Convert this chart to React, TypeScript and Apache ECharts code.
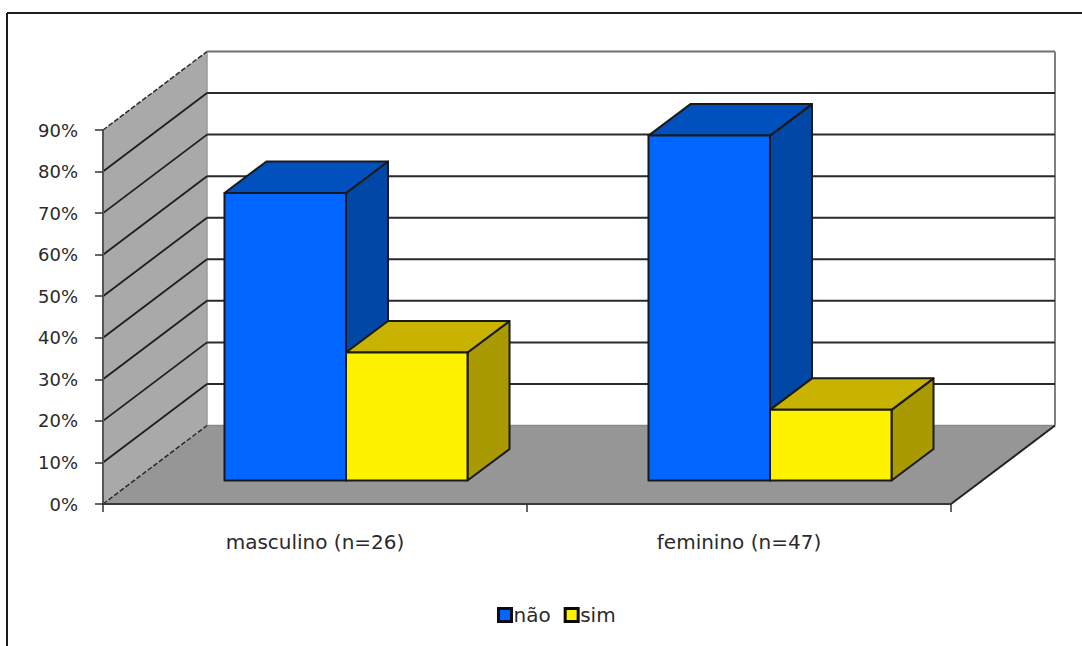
import React, { useEffect, useRef } from "react";
import * as echarts from "echarts";

const categories = ["masculino (n=26)", "feminino (n=47)"];
const naoValues = [69.2, 83.0];
const simValues = [30.8, 17.0];
const gridLevels = [10, 20, 30, 40, 50, 60, 70, 80];

// Oblique projection: how far the back wall sits from the front plane, and the bar's depth.
const WALL_DX = 104;
const WALL_DY = -78.5;
const BAR_DX = 42;
const BAR_DY = -31.5;
const BAR_BAND_SHARE = 0.2866;

const FONT = "'DejaVu Sans', sans-serif";
const TEXT = "#2a2a2a";

type Shade = { front: string; top: string; side: string };
const BLUE: Shade = { front: "#0066FF", top: "#0050BE", side: "#0047A6" };
const YELLOW: Shade = { front: "#FFF200", top: "#C8B400", side: "#A89A00" };
const EDGE = "#1a1a18";

const poly = (points: number[][], fill: string, stroke: string, lineWidth = 2) => ({
  type: "polygon",
  shape: { points },
  style: { fill, stroke, lineWidth, lineJoin: "round" },
});

const seg = (a: number[], b: number[], stroke: string, lineWidth: number, lineDash?: number[]) => ({
  type: "line",
  shape: { x1: a[0], y1: a[1], x2: b[0], y2: b[1] },
  style: { stroke, lineWidth, lineDash },
});

// Left wall, back wall and floor of the box around the plot area.
function renderWalls(params: any) {
  const { x, y, width, height } = params.coordSys;
  const bottom = y + height;
  const right = x + width;
  const back = (px: number, py: number) => [px + WALL_DX, py + WALL_DY];
  return {
    type: "group",
    children: [
      poly([back(x, y), back(right, y), back(right, bottom), back(x, bottom)], "#FFFFFF", "none", 0),
      poly([[x, y], back(x, y), back(x, bottom), [x, bottom]], "#A9A9A9", "none", 0),
      poly([[x, bottom], back(x, bottom), back(right, bottom), [right, bottom]], "#969696", "none", 0),
      seg(back(x, y), back(right, y), "#707070", 2),
      seg(back(right, y), back(right, bottom), "#808080", 2),
      seg(back(x, bottom), back(right, bottom), "#8a8a8a", 1.5),
      seg(back(x, y), back(x, bottom), "#9a9a9a", 1.5),
      seg([x, y], back(x, y), "#2a2a2a", 1.5, [5, 2]),
      seg([x, bottom], back(x, bottom), "#2a2a2a", 1.5, [5, 2]),
      seg([right, bottom], back(right, bottom), "#222222", 2),
    ],
  };
}

// One gridline: up the left wall, then across the back wall.
function renderGridLevel(params: any, api: any) {
  const p = api.coord([0, api.value(1)]);
  const { x, width } = params.coordSys;
  const corner = [x + WALL_DX, p[1] + WALL_DY];
  return {
    type: "group",
    children: [
      seg([x, p[1]], corner, "#1e1e1e", 1.8),
      seg(corner, [x + width + WALL_DX, p[1] + WALL_DY], "#2a2a2a", 2),
    ],
  };
}

// A box standing mid-depth on the floor; side -1 sits left of the band centre, +1 right of it.
function boxRenderer(side: number, shade: Shade) {
  return (_params: any, api: any) => {
    const idx = api.value(0);
    const top = api.coord([idx, api.value(1)]);
    const base = api.coord([idx, 0]);
    const w = api.size([1, 0])[0] * BAR_BAND_SHARE;
    const ox = (WALL_DX - BAR_DX) / 2;
    const oy = (WALL_DY - BAR_DY) / 2;
    const x0 = top[0] + ox + (side < 0 ? -w : 0);
    const x1 = x0 + w;
    const yTop = top[1] + oy;
    const yBase = base[1] + oy;
    return {
      type: "group",
      children: [
        poly(
          [[x1, yTop], [x1 + BAR_DX, yTop + BAR_DY], [x1 + BAR_DX, yBase + BAR_DY], [x1, yBase]],
          shade.side,
          EDGE
        ),
        poly(
          [[x0, yTop], [x0 + BAR_DX, yTop + BAR_DY], [x1 + BAR_DX, yTop + BAR_DY], [x1, yTop]],
          shade.top,
          EDGE
        ),
        poly([[x0, yTop], [x1, yTop], [x1, yBase], [x0, yBase]], shade.front, EDGE),
      ],
    };
  };
}

const xy = (values: number[]) => values.map((v, i) => [i, v]);

export default function App() {
  const ref = useRef<HTMLDivElement>(null);

  useEffect(() => {
    const chart = echarts.init(ref.current!, undefined, { renderer: "svg" });
    chart.setOption({
      animation: false,
      backgroundColor: "#FFFFFF",
      textStyle: { fontFamily: FONT },
      grid: { left: 103, right: 131, top: 130, bottom: 142 },
      xAxis: {
        type: "category",
        data: categories,
        z: 5,
        axisLine: { lineStyle: { color: "#3a3a3a", width: 2 } },
        axisTick: { show: true, length: 8, lineStyle: { color: "#333333", width: 1.5 } },
        axisLabel: { color: TEXT, fontSize: 20, fontFamily: FONT, margin: 28 },
        splitLine: { show: false },
      },
      yAxis: {
        type: "value",
        min: 0,
        max: 90,
        interval: 10,
        z: 5,
        axisLine: { show: true, lineStyle: { color: "#555555", width: 2 } },
        axisTick: { show: true, length: 8, lineStyle: { color: "#333333", width: 1.5 } },
        axisLabel: { color: TEXT, fontSize: 18, fontFamily: FONT, margin: 25, formatter: "{value}%" },
        splitLine: { show: false },
      },
      legend: {
        left: 492,
        top: 600,
        itemWidth: 13,
        itemHeight: 13,
        itemGap: 13,
        selectedMode: false,
        textStyle: { color: TEXT, fontSize: 20, fontFamily: FONT, padding: [0, 0, 0, -3] },
        data: [
          { name: "não", icon: "rect", itemStyle: { color: BLUE.front, borderColor: "#0a0a14", borderWidth: 3 } },
          { name: "sim", icon: "rect", itemStyle: { color: YELLOW.front, borderColor: "#0a0a00", borderWidth: 3 } },
        ],
      },
      graphic: [
        { type: "line", silent: true, shape: { x1: 7, y1: 13, x2: 1082, y2: 13 }, style: { stroke: "#1c1c1c", lineWidth: 2 } },
        { type: "line", silent: true, shape: { x1: 7, y1: 13, x2: 7, y2: 646 }, style: { stroke: "#1c1c1c", lineWidth: 2 } },
      ],
      series: [
        {
          name: "walls",
          type: "custom",
          z: 1,
          silent: true,
          clip: false,
          encode: { x: 0, y: 1 },
          data: [[0, 0]],
          renderItem: renderWalls,
        },
        {
          name: "grid",
          type: "custom",
          z: 2,
          silent: true,
          clip: false,
          encode: { x: 0, y: 1 },
          data: gridLevels.map((v) => [0, v]),
          renderItem: renderGridLevel,
        },
        {
          name: "não",
          type: "custom",
          z: 3,
          clip: false,
          encode: { x: 0, y: 1 },
          itemStyle: { color: BLUE.front },
          data: xy(naoValues),
          renderItem: boxRenderer(-1, BLUE),
        },
        {
          name: "sim",
          type: "custom",
          z: 3,
          clip: false,
          encode: { x: 0, y: 1 },
          itemStyle: { color: YELLOW.front },
          data: xy(simValues),
          renderItem: boxRenderer(1, YELLOW),
        },
      ],
    });
    return () => chart.dispose();
  }, []);

  return <div ref={ref} style={{ position: "fixed", left: 0, top: 0, width: 1082, height: 646 }} />;
}
